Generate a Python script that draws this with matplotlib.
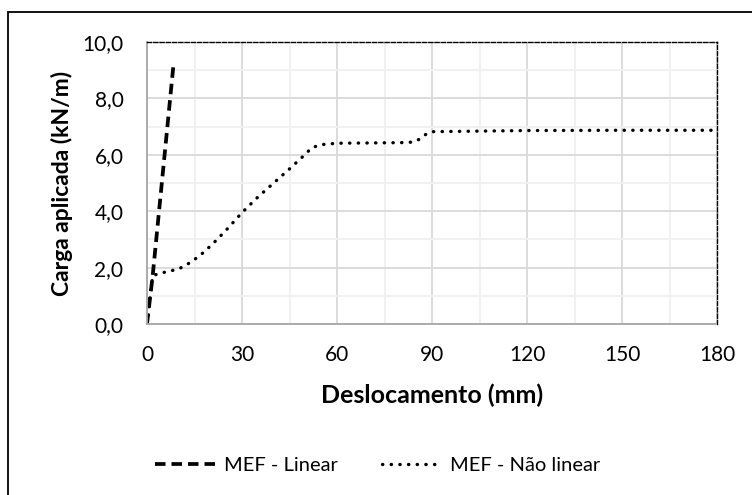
import matplotlib
matplotlib.use("Agg")
import matplotlib.pyplot as plt
from matplotlib.patches import Rectangle
from matplotlib.ticker import MultipleLocator, FuncFormatter

plt.rcParams['font.family'] = ['Lato', 'DejaVu Sans']

# Load-displacement curves
linear_x = [0, 1.8, 8.3]
linear_y = [0, 1.72, 9.12]

nonlinear_x = [0, 1.8, 5, 10, 14, 18, 22, 26, 30, 35, 40, 45, 50, 52, 55, 60,
               70, 80, 84, 86, 88, 90, 120, 150, 180]
nonlinear_y = [0, 1.72, 1.82, 1.95, 2.2, 2.55, 2.98, 3.45, 3.95, 4.5, 5.0, 5.5,
               6.02, 6.25, 6.36, 6.41, 6.42, 6.43, 6.45, 6.55, 6.72, 6.82,
               6.86, 6.87, 6.87]

x_ticks = [0, 30, 60, 90, 120, 150, 180]
y_ticks = [0, 2, 4, 6, 8, 10]

fig = plt.figure(figsize=(7.52, 4.95), dpi=100)
W, H = 752, 495
ax = fig.add_axes([147 / W, 1 - 324 / H, (717 - 147) / W, (324 - 42) / H])

ax.plot(linear_x, linear_y, color='black', lw=2.7, linestyle=(0, (2.8, 1.6)),
        label='MEF - Linear')
ax.plot(nonlinear_x, nonlinear_y, color='black', lw=2.4,
        linestyle=(0, (0.1, 2.5)), dash_capstyle='round',
        label='MEF - Não linear')

ax.set_xlim(0, 180)
ax.set_ylim(0, 10)
ax.xaxis.set_minor_locator(MultipleLocator(15))
ax.yaxis.set_minor_locator(MultipleLocator(1))
ax.set_xticks(x_ticks)
ax.set_yticks(y_ticks)
ax.yaxis.set_major_formatter(FuncFormatter(lambda v, p: f"{v:.1f}".replace('.', ',')))

ax.grid(which='major', color='#d9d9d9', lw=1.3)
ax.grid(which='minor', color='#f0f0f0', lw=1.3)
ax.set_axisbelow(True)

ax.tick_params(which='both', length=0, labelsize=15)
ax.tick_params(axis='x', pad=15)
ax.tick_params(axis='y', pad=17)

for side in ('top', 'right'):
    ax.spines[side].set_color('black')
    ax.spines[side].set_linestyle((0, (3, 1.5)))
    ax.spines[side].set_linewidth(1.0)
for side in ('left', 'bottom'):
    ax.spines[side].set_color('#a6a6a6')
    ax.spines[side].set_linestyle((0, (3, 1)))
    ax.spines[side].set_linewidth(1.3)

ax.set_xlabel('Deslocamento (mm)', fontsize=18, fontweight='bold')
ax.set_ylabel('Carga aplicada (kN/m)', fontsize=16.5, fontweight='bold')
ax.xaxis.set_label_coords(0.5, -(395 - 324) / (324 - 42), transform=ax.transAxes)
ax.yaxis.set_label_coords(-(147 - 62) / (717 - 147), 0.5, transform=ax.transAxes)
ax.xaxis.label.set_va('center')
ax.yaxis.label.set_va('center')

leg = fig.legend(loc='center', bbox_to_anchor=(378 / W, 1 - 465 / H), ncol=2,
                 frameon=False, fontsize=14.5, handlelength=3.0,
                 columnspacing=2.2, handletextpad=0.4)

# Chart frame
fig.patches.append(Rectangle((8 / W, -0.01), 1.02, 1 - 12 / H + 0.01,
                             transform=fig.transFigure, fill=False,
                             edgecolor='black', lw=1.3))

fig.savefig('out.png', dpi=100)
